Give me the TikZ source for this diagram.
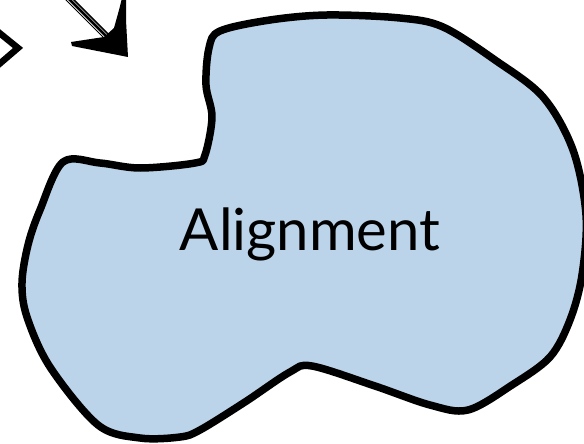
\documentclass[tikz,border=0pt]{standalone}
\usepackage{fontspec}
\newfontfamily\labelfont{Lato}
\usepackage{xcolor}
\usetikzlibrary{positioning,arrows.meta,calc}
\definecolor{blobfill}{RGB}{188,212,234}

\begin{document}
\begin{tikzpicture}[x=1pt, y=-1pt, every node/.style={font=\labelfont\fontsize{58}{70}\selectfont, align=center}]
  \def\lw{7.5pt}
  \useasboundingbox (0,0) rectangle (584,444);
  \clip (0,0) rectangle (584,444);

  \draw[line width=\lw, fill=blobfill, line join=round]
    plot[smooth cycle, tension=0.55] coordinates {
      (220,31) (270,20) (327,15) (400,18) (443,27) (495,60) (543,97)
      (573,150) (586,215) (582,275) (570,320) (550,357) (512,385)
      (468,410) (430,405) (375,386) (312,366) (290,372) (245,402)
      (200,430) (180,437) (140,438) (98,425) (50,367) (27,317)
      (22,283) (28,245) (40,210) (63,162) (100,163) (140,168)
      (195,163) (205,155) (212,117) (206,85) (209,48)};
  \node (label) at (310,250) [anchor=base] {Alignment};

  % sketchy arrow, cut off by the frame
  \coordinate (tail) at (66,-4);
  \coordinate (tip) at (128,57);
  \draw[line width=2.5pt] (tail) -- (107,37);
  \draw[line width=1.5pt] ($(tail)+(4,0)$) -- (109,35);
  \draw[line width=1pt] ($(tail)+(-2,2)$) -- (105,39);
  \fill (71,42) -- (104,37) -- (114,28) -- (119,10) -- (122,-2)
    -- (126,-2) -- (126,20) -- (tip) -- (72,46) -- cycle;

  \draw[line width=6.5pt, miter limit=20] (-3,31) -- (18,48) -- (-3,66);
\end{tikzpicture}
\end{document}
